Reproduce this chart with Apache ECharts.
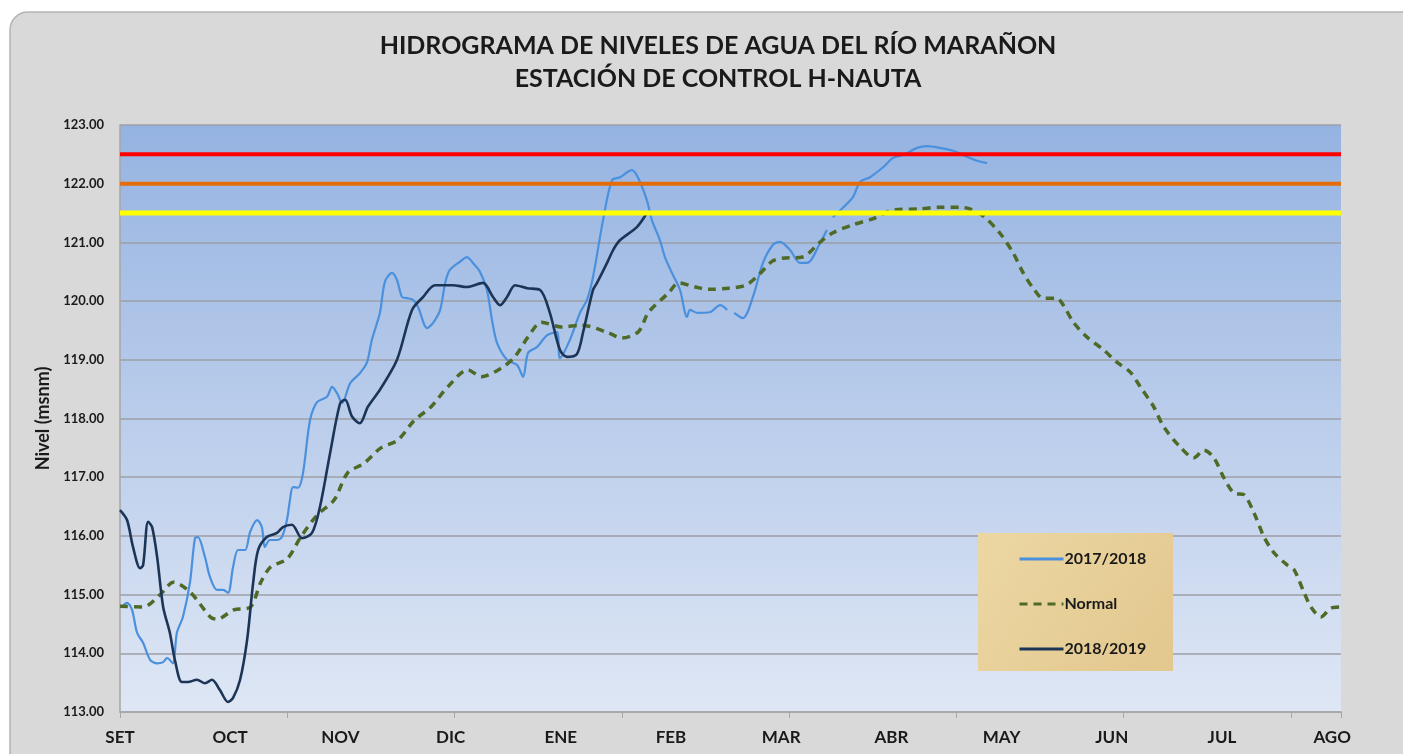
<!DOCTYPE html>
<html>
<head>
<meta charset="utf-8">
<script src="https://cdn.jsdelivr.net/npm/echarts@6/dist/echarts.min.js"></script>
<style>
html,body{margin:0;padding:0;background:#ffffff;}
#chart{width:1403px;height:754px;}
</style>
</head>
<body>
<div id="chart"></div>
<script>
// Month labels (evenly spaced along the bottom)
const monthLabels = ['SET','OCT','NOV','DIC','ENE','FEB','MAR','ABR','MAY','JUN','JUL','AGO'];

// Series: [day since 1 Sep, level (msnm)]
const serie2017_2018 = [
  [0.6,114.79],[2.1,114.86],[3.6,114.74],[5.1,114.35],[6.9,114.18],[9.0,113.89],[11.1,113.83],[12.9,113.85],[14.1,113.92],[15.8,113.83],
  [17.0,114.35],[18.8,114.62],[20.9,115.20],[22.4,115.96],[23.3,115.98],[25.4,115.64],[26.9,115.30],[29.0,115.08],[30.8,115.08],[32.3,115.03],
  [33.8,115.47],[35.3,115.76],[37.4,115.76],[38.9,116.07],[41.0,116.27],[42.4,116.15],[43.3,115.81],[44.8,115.93],[46.9,115.93],[48.4,115.98],
  [49.9,116.27],[50.8,116.61],[51.7,116.83],[53.2,116.82],[54.7,117.07],[56.8,117.97],[58.9,118.28],[61.9,118.37],[63.4,118.54],[64.9,118.43],
  [66.4,118.26],[68.8,118.60],[71.7,118.77],[73.8,118.95],[75.3,119.34],[77.7,119.80],[79.2,120.33],[81.3,120.48],[82.8,120.36],[84.3,120.07],
  [85.8,120.05],[87.6,120.02],[89.1,119.90],[91.8,119.54],[93.6,119.63],[95.7,119.85],[97.2,120.31],[98.6,120.53],[101.6,120.67],[103.7,120.75],
  [105.5,120.65],[107.6,120.50],[109.7,120.19],[111.2,119.68],[112.7,119.29],[115.7,119.00],[118.7,118.91],[120.5,118.71],[122.0,119.12],[124.7,119.22],
  [127.7,119.42],[130.6,119.47],[131.5,119.03],[134.5,119.34],[137.5,119.80],[139.6,120.02],[141.4,120.41],[144.4,121.38],[147.1,122.06],[149.5,122.11],
  [153.0,122.23],[154.8,122.11],[157.5,121.72],[159.0,121.38],[161.4,121.04],[162.9,120.75],[165.0,120.48],[167.4,120.19],[169.5,119.73],[170.4,119.85],
  [172.5,119.80],[176.3,119.81],[179.4,119.93],[181.5,119.85],[182.4,null],[183.6,119.80],[186.2,119.71],[189.2,120.07],[192.2,120.65],[195.2,120.96],[197.3,121.01],
  [200.3,120.87],[203.3,120.65],[205.4,120.65],[209.3,120.99],[211.3,121.21],[212.2,null],[213.1,121.43],[216.1,121.59],[219.1,121.77],[221.2,122.03],
  [224.2,122.11],[228.1,122.28],[231.1,122.44],[234.1,122.49],[238.3,122.61],[241.2,122.64],[245.1,122.61],[249.0,122.56],[253.2,122.46],[256.2,122.39],
  [259.2,122.35]
];

const serieNormal = [
  [0,114.80],[7,114.79],[12,115.00],[16,115.21],[21,115.04],[27,114.62],[29,114.58],[34,114.74],[39,114.79],[42,115.20],
  [45,115.47],[50,115.61],[54,115.98],[59,116.36],[64,116.61],[68,117.07],[73,117.24],[78,117.50],[83,117.63],[88,117.97],
  [93,118.20],[98,118.54],[104,118.83],[108,118.71],[114,118.86],[118,119.05],[122,119.39],[126,119.64],[132,119.56],[138,119.59],
  [146,119.46],[150,119.37],[155,119.48],[158,119.81],[164,120.14],[167,120.31],[172,120.24],[176,120.20],[182,120.22],[187,120.27],
  [191,120.45],[195,120.68],[198,120.73],[204,120.75],[209,120.99],[213,121.16],[219,121.30],[225,121.40],[231,121.55],[239,121.57],
  [245,121.60],[251,121.60],[254,121.57],[258,121.45],[263,121.16],[267,120.82],[270,120.48],[273,120.22],[276,120.05],[280,120.05],
  [282,119.93],[285,119.64],[289,119.39],[294,119.17],[298,118.96],[302,118.79],[305,118.54],[309,118.20],[312,117.86],[317,117.51],
  [321,117.33],[324,117.46],[327,117.33],[330,116.99],[333,116.73],[336,116.70],[339,116.39],[342,115.98],[345,115.71],[349,115.50],
  [351,115.42],[354,115.03],[356,114.79],[359,114.62],[362,114.77],[365,114.79]
];

const serie2018_2019 = [
  [0,116.44],[2.1,116.27],[3.9,115.81],[6.0,115.45],[6.9,115.50],[8.4,116.24],[9.6,116.15],[11.1,115.64],[12.9,114.79],[14.9,114.35],
  [16.4,113.89],[18.5,113.51],[20.3,113.51],[23.0,113.55],[25.4,113.49],[27.5,113.55],[29.9,113.37],[32.3,113.17],[33.8,113.24],[35.9,113.55],
  [38.0,114.23],[39.8,115.20],[41.3,115.76],[43.9,115.98],[46.9,116.05],[48.7,116.15],[51.4,116.19],[54.4,115.96],[57.4,116.05],[59.8,116.50],
  [62.8,117.41],[65.8,118.26],[67.3,118.32],[69.4,118.03],[71.7,117.92],[74.1,118.20],[77.7,118.49],[82.8,119.00],[87.3,119.85],[90.6,120.07],
  [94.2,120.27],[99.5,120.27],[103.7,120.24],[108.5,120.31],[111.5,120.07],[113.6,119.93],[115.7,120.07],[118.1,120.27],[121.7,120.22],[125.6,120.19],
  [128.5,119.80],[131.5,119.17],[133.6,119.05],[136.6,119.10],[138.4,119.46],[141.4,120.19],[142.6,120.31],[145.6,120.65],[147.4,120.87],[149.5,121.04],
  [154.5,121.26],[157.5,121.50]
];

// Threshold levels (red, orange, yellow)
const umbrales = [122.5, 122.0, 121.5];
const umbralColors = ['#ff0000', '#e46c0a', '#ffff00'];
const umbralNames = ['Umbral rojo', 'Umbral naranja', 'Umbral amarillo'];

const yMin = 113, yMax = 123, dayMax = 365;
const FONT = 'Lato';

const chart = echarts.init(document.getElementById('chart'), null, {renderer: 'canvas'});

const thresholdSeries = umbrales.map((v, i) => ({
  name: umbralNames[i],
  type: 'line',
  xAxisIndex: 0,
  data: [[0, v], [dayMax, v]],
  symbol: 'none',
  lineStyle: {color: umbralColors[i], width: i === 2 ? 5 : 4},
  z: 5,
  silent: true
}));

const option = {
  backgroundColor: '#ffffff',
  animation: false,
  graphic: [
    {
      type: 'rect', z: -10, silent: true,
      shape: {x: 10, y: 12, width: 1420, height: 780, r: 18},
      style: {fill: '#d9d9d9', stroke: '#b4b4b4', lineWidth: 1.5}
    },
    {
      type: 'rect', z: 1, silent: true,
      shape: {x: 978, y: 533, width: 195, height: 138},
      style: {
        fill: {type: 'linear', x: 0, y: 0, x2: 1, y2: 1, colorStops: [
          {offset: 0, color: '#ecd7a3'}, {offset: 0.5, color: '#e7cf98'}, {offset: 1, color: '#e2c78e'}
        ]}
      }
    }
  ],
  title: {
    text: 'HIDROGRAMA DE NIVELES DE AGUA DEL RÍO MARAÑON\nESTACIÓN DE CONTROL H-NAUTA',
    left: 713, top: 24, textAlign: 'center',
    textStyle: {fontFamily: FONT, fontWeight: 'bold', fontSize: 25, color: '#1a1a1a', lineHeight: 33}
  },
  legend: {
    data: ['2017/2018', 'Normal', '2018/2019'],
    orient: 'vertical',
    left: 1013, top: 546,
    itemWidth: 44, itemHeight: 14, itemGap: 29,
    itemStyle: {opacity: 0},
    lineStyle: {width: 3},
    textStyle: {fontFamily: FONT, fontWeight: 'bold', fontSize: 16, color: '#1a1a1a', padding: [0,0,0,-4]},
    z: 10
  },
  grid: {
    left: 120, top: 125, width: 1221, height: 587,
    show: true, borderWidth: 0,
    backgroundColor: {type: 'linear', x: 0, y: 0, x2: 0, y2: 1, colorStops: [
      {offset: 0, color: '#95b3e1'}, {offset: 1, color: '#dfe7f5'}
    ]}
  },
  xAxis: [
    {
      type: 'value', min: 0, max: dayMax, interval: 50,
      axisLine: {show: true, lineStyle: {color: '#a6a6a6', width: 1.5}},
      axisTick: {show: true, length: 6, lineStyle: {color: '#a6a6a6'}},
      axisLabel: {show: false},
      splitLine: {show: false}
    },
    {
      type: 'value', min: 0, max: 11.08, interval: 1, position: 'bottom',
      axisLine: {show: false}, axisTick: {show: false}, splitLine: {show: false},
      axisLabel: {
        show: true, margin: 17,
        fontFamily: FONT, fontWeight: 'bold', fontSize: 17, color: '#1a1a1a',
        formatter: v => (Number.isInteger(v) && v < monthLabels.length) ? monthLabels[v] : ''
      }
    }
  ],
  yAxis: {
    type: 'value', min: yMin, max: yMax, interval: 1,
    name: 'Nivel (msnm)', nameLocation: 'middle', nameGap: 68, nameRotate: 90,
    nameTextStyle: {fontFamily: FONT, fontWeight: 'bold', fontSize: 18, color: '#1a1a1a'},
    axisLine: {show: true, lineStyle: {color: '#a6a6a6', width: 1.5}},
    axisTick: {show: false},
    axisLabel: {fontFamily: FONT, fontWeight: 'bold', fontSize: 13, color: '#1a1a1a', margin: 16,
      formatter: v => v.toFixed(2)},
    splitLine: {show: true, lineStyle: {color: '#9d9fa6', width: 1.5}}
  },
  series: [
    {
      name: '2017/2018', type: 'line', xAxisIndex: 0, data: serie2017_2018,
      symbol: 'none', smooth: 0.3, connectNulls: false,
      lineStyle: {color: '#4a90dd', width: 2.2}, itemStyle: {color: '#4a90dd'}, z: 3
    },
    {
      name: 'Normal', type: 'line', xAxisIndex: 0, data: serieNormal,
      symbol: 'none', smooth: 0.3,
      lineStyle: {color: '#4f6a26', width: 3.5, type: [8, 6]}, itemStyle: {color: '#4f6a26'}, z: 3
    },
    {
      name: '2018/2019', type: 'line', xAxisIndex: 0, data: serie2018_2019,
      symbol: 'none', smooth: 0.3,
      lineStyle: {color: '#1c3557', width: 2.6}, itemStyle: {color: '#1c3557'}, z: 4
    }
  ].concat(thresholdSeries)
};

chart.setOption(option);
</script>
</body>
</html>
